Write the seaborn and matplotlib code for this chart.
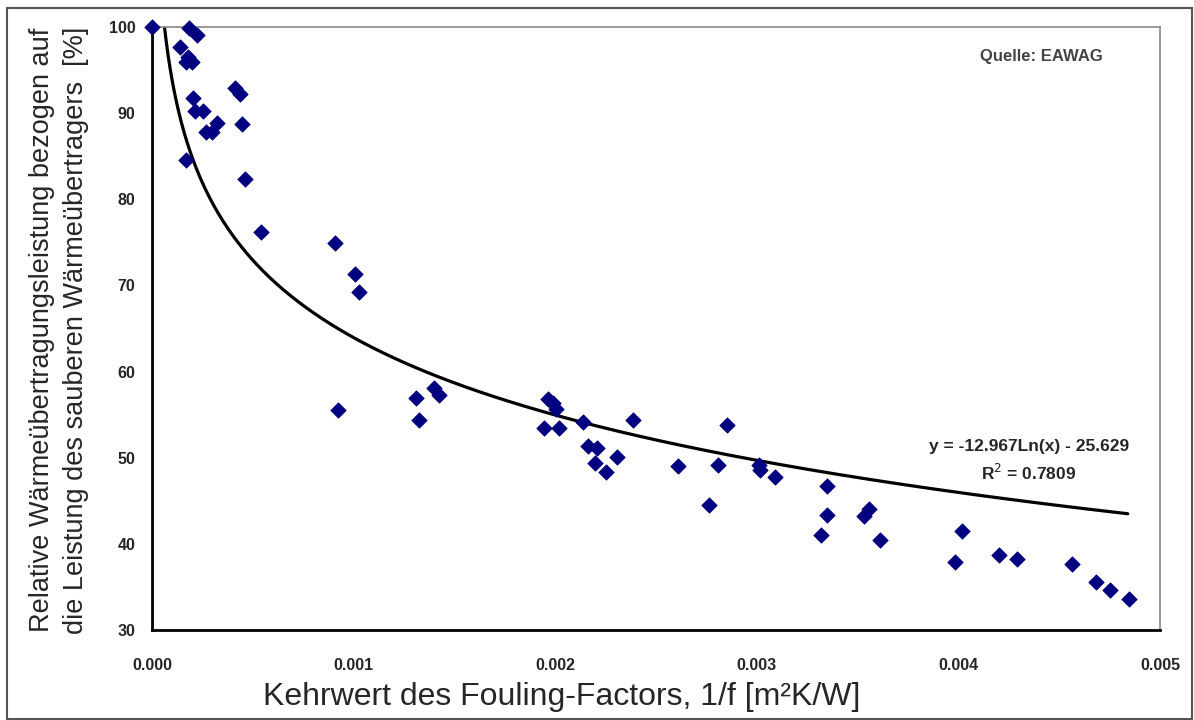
import numpy as np
import pandas as pd
import matplotlib
matplotlib.use('Agg')
import matplotlib.pyplot as plt
import seaborn as sns
from matplotlib.patches import Rectangle

# Messpunkte
kehrwert = [0.0, 0.000139, 0.000185, 0.000222, 0.00018, 0.0002, 0.00017,
            0.000412, 0.000437, 0.000202, 0.000213, 0.000255, 0.000321,
            0.000268, 0.000296, 0.000445, 0.000169, 0.000461, 0.000541,
            0.000908, 0.001007, 0.001028, 0.000924, 0.00131, 0.001326,
            0.001399, 0.001425, 0.001966, 0.001988, 0.002004, 0.001944,
            0.00202, 0.00214, 0.002164, 0.002209, 0.002197, 0.002252,
            0.002305, 0.002384, 0.002607, 0.002761, 0.00281, 0.002854,
            0.00301, 0.003014, 0.00309, 0.003347, 0.003347, 0.00332,
            0.003556, 0.003534, 0.003611, 0.004019, 0.003981, 0.0042,
            0.004293, 0.004565, 0.004685, 0.00475, 0.004844]
leistung = [100.0, 97.7, 99.9, 99.1, 96.5, 95.9, 95.9,
            92.9, 92.2, 91.7, 90.2, 90.2, 88.9,
            87.8, 87.8, 88.7, 84.6, 82.3, 76.2,
            74.9, 71.3, 69.2, 55.5, 56.9, 54.4,
            58.1, 57.3, 56.8, 56.3, 55.6, 53.4,
            53.4, 54.2, 51.4, 51.1, 49.4, 48.3,
            50.1, 54.4, 49.0, 44.5, 49.2, 53.8,
            49.2, 48.6, 47.8, 46.7, 43.3, 41.0,
            44.1, 43.2, 40.4, 41.5, 37.9, 38.7,
            38.2, 37.7, 35.6, 34.6, 33.6]

# logarithmische Trendlinie laut Diagramm
trend_a = -12.967
trend_b = -25.629
trend_x_end = 0.00484

df = pd.DataFrame({'x': kehrwert, 'y': leistung})
x_start = np.exp((100 - trend_b) / trend_a)
tx = np.geomspace(x_start, trend_x_end, 400)
trend = pd.DataFrame({'x': tx, 'y': trend_a * np.log(tx) + trend_b})

sns.set_style('white')
plt.rcParams['font.family'] = ['Liberation Sans', 'DejaVu Sans']

fig = plt.figure(figsize=(11.94, 7.2), dpi=100)
ax = fig.add_axes([152 / 1194, 90 / 720, 1008 / 1194, 603 / 720])

sns.lineplot(data=trend, x='x', y='y', ax=ax, color='black', linewidth=2.3,
             zorder=2)
sns.scatterplot(data=df, x='x', y='y', ax=ax, marker='D', color='#000080',
                s=62, edgecolor='#000080', linewidth=0.5, zorder=3,
                clip_on=False)

ax.set_xlim(0, 0.005)
ax.set_ylim(30, 100)
ax.set_xticks(np.arange(0, 0.0051, 0.001))
ax.set_yticks(np.arange(30, 101, 10))
ax.set_xticklabels([f'{v:.3f}' for v in np.arange(0, 0.0051, 0.001)])
ax.tick_params(axis='both', direction='out', length=6, width=1.2,
               color='black', labelsize=11.5)
ax.tick_params(axis='x', pad=14)
ax.tick_params(axis='y', pad=6)
for lab in ax.get_xticklabels() + ax.get_yticklabels():
    lab.set_fontweight('bold')

for side in ['left', 'bottom']:
    ax.spines[side].set_color('black')
    ax.spines[side].set_linewidth(2)
for side in ['top', 'right']:
    ax.spines[side].set_color('#888888')
    ax.spines[side].set_linewidth(1.2)

ax.set_xlabel('')
ax.set_ylabel('')
fig.text(59 / 1194, 1 - 330 / 720,
         'Relative Wärmeübertragungsleistung bezogen auf\n'
         'die Leistung des sauberen Wärmeübertragers  [%]',
         rotation=90, ha='center', va='center', fontsize=19.5,
         linespacing=1.4)

fig.text(562 / 1194, 1 - 697 / 720, 'Kehrwert des Fouling-Factors, 1/f [m²K/W]',
         ha='center', va='center', fontsize=23)

ax.text(0.00435, 49.6, 'y = -12.967Ln(x) - 25.629\nR$^2$ = 0.7809',
        ha='center', va='center', fontsize=12.5, fontweight='bold',
        linespacing=1.5)
ax.text(0.00441, 96.6, 'Quelle: EAWAG', ha='center', va='center',
        fontsize=12, color='#444444', fontweight='bold')

fig.patches.append(Rectangle((7 / 1194, 1 / 720), 1185 / 1194, 711 / 720,
                             transform=fig.transFigure, fill=False,
                             edgecolor='#555555', linewidth=1.5))

fig.savefig('out.png', dpi=100)
